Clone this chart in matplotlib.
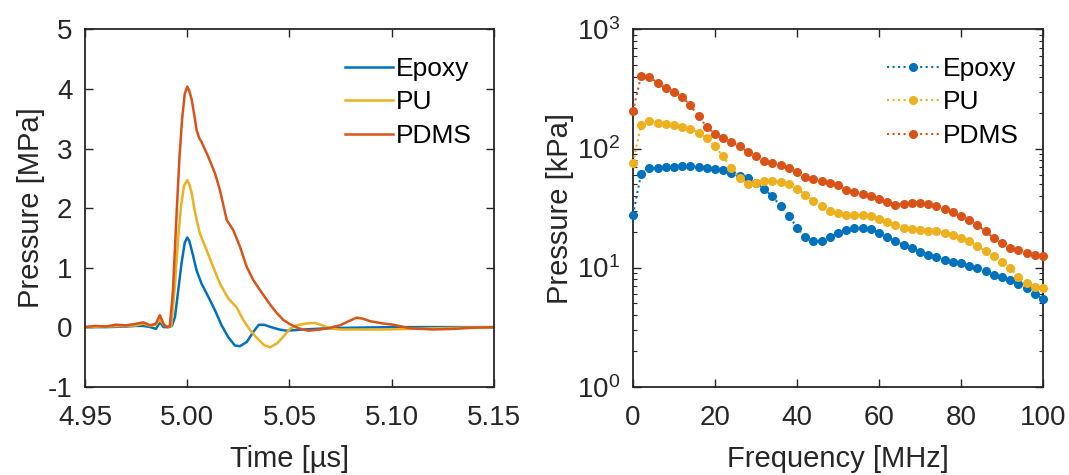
import numpy as np
import matplotlib.pyplot as plt

plt.rcParams['font.family'] = ['Liberation Sans', 'DejaVu Sans']
plt.rcParams['mathtext.default'] = 'regular'
plt.rcParams['axes.unicode_minus'] = False

# time-domain pulses (us, MPa)
t_epoxy = [4.950, 4.960, 4.970, 4.975, 4.9785, 4.982, 4.9847, 4.9866, 4.9885, 4.9910,
           4.9925, 4.9940, 4.9956, 4.9972, 4.9988, 5.0000, 5.0010, 5.0022, 5.0046, 5.0070,
           5.0103, 5.0136, 5.0168, 5.0201, 5.0233, 5.0258, 5.0291, 5.0323, 5.0350, 5.0375,
           5.0410, 5.0450, 5.0486, 5.0568, 5.0680, 5.0800, 5.1000, 5.1500]
p_epoxy = [0.0, 0.0, 0.01, 0.02, 0.02, 0.0, -0.03, 0.08, 0.0, 0.0,
           0.02, 0.17, 0.62, 1.07, 1.42, 1.505, 1.45, 1.29, 0.95, 0.73,
           0.51, 0.28, 0.03, -0.17, -0.31, -0.32, -0.25, -0.08, 0.04, 0.04,
           0.0, -0.04, -0.06, -0.04, -0.02, -0.01, 0.0, 0.0]

t_pu = [4.950, 4.960, 4.970, 4.975, 4.9785, 4.982, 4.9847, 4.9866, 4.9885, 4.9905,
        4.9922, 4.9940, 4.9956, 4.9970, 4.9985, 5.0000, 5.0010, 5.0022, 5.0034, 5.0046,
        5.0062, 5.0095, 5.0127, 5.0160, 5.0201, 5.0242, 5.0274, 5.0307, 5.0340, 5.0375,
        5.0405, 5.0440, 5.0475, 5.0502, 5.0535, 5.0580, 5.0625, 5.0660, 5.0700, 5.0747,
        5.0850, 5.0960, 5.1090, 5.1200, 5.1350, 5.1500]
p_pu = [0.0, 0.01, 0.02, 0.03, 0.06, 0.02, 0.04, 0.13, 0.04, 0.0,
        0.02, 0.70, 1.52, 2.05, 2.38, 2.47, 2.40, 2.25, 2.00, 1.80,
        1.57, 1.29, 1.01, 0.73, 0.48, 0.33, 0.12, -0.05, -0.18, -0.30,
        -0.34, -0.27, -0.14, -0.03, 0.03, 0.06, 0.07, 0.03, -0.02, -0.04,
        -0.04, -0.04, -0.03, -0.02, -0.01, 0.0]

t_pdms = [4.950, 4.955, 4.960, 4.965, 4.970, 4.974, 4.9785, 4.982, 4.9847, 4.9866,
          4.9885, 4.9902, 4.9915, 4.9930, 4.9948, 4.9962, 4.9975, 4.9988, 5.0000, 5.0010,
          5.0022, 5.0035, 5.0046, 5.0058, 5.0070, 5.0103, 5.0136, 5.0160, 5.0193, 5.0225,
          5.0258, 5.0291, 5.0323, 5.0356, 5.0405, 5.0437, 5.0470, 5.0502, 5.0545, 5.0592,
          5.0649, 5.0700, 5.0747, 5.0790, 5.0829, 5.0860, 5.0894, 5.0959, 5.1008, 5.1090,
          5.1200, 5.1300, 5.1400, 5.1500]
p_pdms = [0.0, 0.02, 0.01, 0.04, 0.03, 0.05, 0.08, 0.03, 0.06, 0.20,
          0.05, 0.0, 0.02, 0.60, 1.91, 2.85, 3.50, 3.92, 4.04, 3.97,
          3.82, 3.55, 3.31, 3.18, 3.11, 2.86, 2.58, 2.30, 1.80, 1.63,
          1.35, 1.01, 0.79, 0.62, 0.38, 0.24, 0.12, 0.05, -0.02, -0.06,
          -0.04, -0.01, 0.03, 0.10, 0.16, 0.14, 0.10, 0.06, 0.04, -0.02,
          -0.04, -0.03, -0.01, 0.0]

# spectra (MHz, kPa), 2 MHz steps
freq = np.arange(0, 102, 2)
s_epoxy = [27.8, 61.5, 68.7, 68.7, 69.6, 70.0, 70.9, 70.9, 70.0, 68.7, 67.4,
           65.6, 62.4, 59.2, 56.6, 51.4, 45.7, 39.6, 33.1, 27.3, 21.7,
           17.9, 16.6, 16.8, 18.0, 19.5, 20.8, 21.5, 21.7, 21.1, 19.7,
           18.0, 16.6, 15.5, 14.6, 13.6, 12.8, 12.2, 11.6, 11.2, 10.9,
           10.3, 9.9, 9.3, 8.7, 8.3, 7.8, 7.3, 6.7, 6.0, 5.4]
s_pu = [75.7, 159, 171, 165, 161, 157, 153, 146, 136, 123, 104,
        86, 69, 56, 50.7, 51.4, 53, 53.5, 52.7, 50, 46,
        41, 36.5, 32.7, 30.0, 28.7, 27.8, 27.4, 27.4, 26.9, 25.6,
        24.1, 22.6, 21.5, 21.1, 20.5, 20.4, 20.1, 19.5, 18.9, 17.7,
        16.6, 15.1, 13.7, 12.4, 11.2, 9.9, 8.4, 7.4, 6.9, 6.8]
s_pdms = [206, 410, 400, 357, 324, 299, 272, 230, 187, 152, 133,
          123, 114, 104, 94, 86, 79, 76, 73, 69, 63,
          58, 55, 53, 51, 49, 44.6, 42.8, 41.8, 40.2, 37.9,
          35.3, 33.8, 34.4, 34.6, 34.8, 34.2, 33.1, 31.0, 29.1, 26.9,
          25.2, 22.9, 20.1, 17.7, 16.1, 14.6, 14.1, 13.2, 12.8, 12.6]

labels = ['Epoxy', 'PU', 'PDMS']
colors = ['#0072BD', '#EDB120', '#D95319']
dark = '#262626'

fig = plt.figure(figsize=(10.69, 4.75), dpi=100)
ax1 = fig.add_axes([0.0795, 0.186, 0.3826, 0.752])
ax2 = fig.add_axes([0.5921, 0.186, 0.3835, 0.752])

# left: time signals
for t, p, lab, c in zip([t_epoxy, t_pu, t_pdms], [p_epoxy, p_pu, p_pdms], labels, colors):
    ax1.plot(t, p, color=c, lw=1.8, label=lab)
ax1.set_xlim(4.95, 5.15)
ax1.set_ylim(-1, 5)
ax1.set_xticks([4.95, 5.00, 5.05, 5.10, 5.15])
ax1.set_xticklabels(['4.95', '5.00', '5.05', '5.10', '5.15'])
ax1.set_yticks(range(-1, 6))
ax1.set_xlabel('Time [µs]', fontsize=21, color=dark)
ax1.set_ylabel('Pressure [MPa]', fontsize=21, color=dark)
ax1.legend(loc='upper right', frameon=False, fontsize=19, handlelength=1.8,
           handletextpad=0.1, labelspacing=0.36, borderaxespad=0.3,
           bbox_to_anchor=(0.99, 0.975))

# right: spectra
for s, lab, c in zip([s_epoxy, s_pu, s_pdms], labels, colors):
    ax2.plot(freq, s, ls=':', lw=1.5, color=c, marker='o', ms=5.5,
             mec=c, mfc=c, label=lab, clip_on=False, zorder=3)
ax2.set_yscale('log')
ax2.set_xlim(0, 100)
ax2.set_ylim(1, 1000)
ax2.set_xticks(range(0, 101, 20))
ax2.set_xlabel('Frequency [MHz]', fontsize=21, color=dark)
ax2.set_ylabel('Pressure [kPa]', fontsize=21, color=dark)
ax2.legend(loc='upper right', frameon=False, fontsize=19, handlelength=2.0,
           handletextpad=0.1, labelspacing=0.36, borderaxespad=0.3,
           bbox_to_anchor=(0.985, 0.975))

for ax in (ax1, ax2):
    for sp in ax.spines.values():
        sp.set_color(dark)
        sp.set_linewidth(1.3)
    ax.tick_params(which='major', direction='in', length=6, width=1.0,
                   top=True, right=True, labelsize=20, colors=dark)
    ax.tick_params(which='minor', direction='in', length=3, width=0.8,
                   top=True, right=True, colors=dark)
    ax.tick_params(axis='x', which='major', pad=13)
    ax.tick_params(axis='y', which='major', pad=9)
    ax.xaxis.labelpad = 10
ax1.yaxis.labelpad = 2
ax2.yaxis.labelpad = 2
ax2.tick_params(axis='x', which='minor', bottom=False, top=False)

fig.savefig('out.png', dpi=100)
